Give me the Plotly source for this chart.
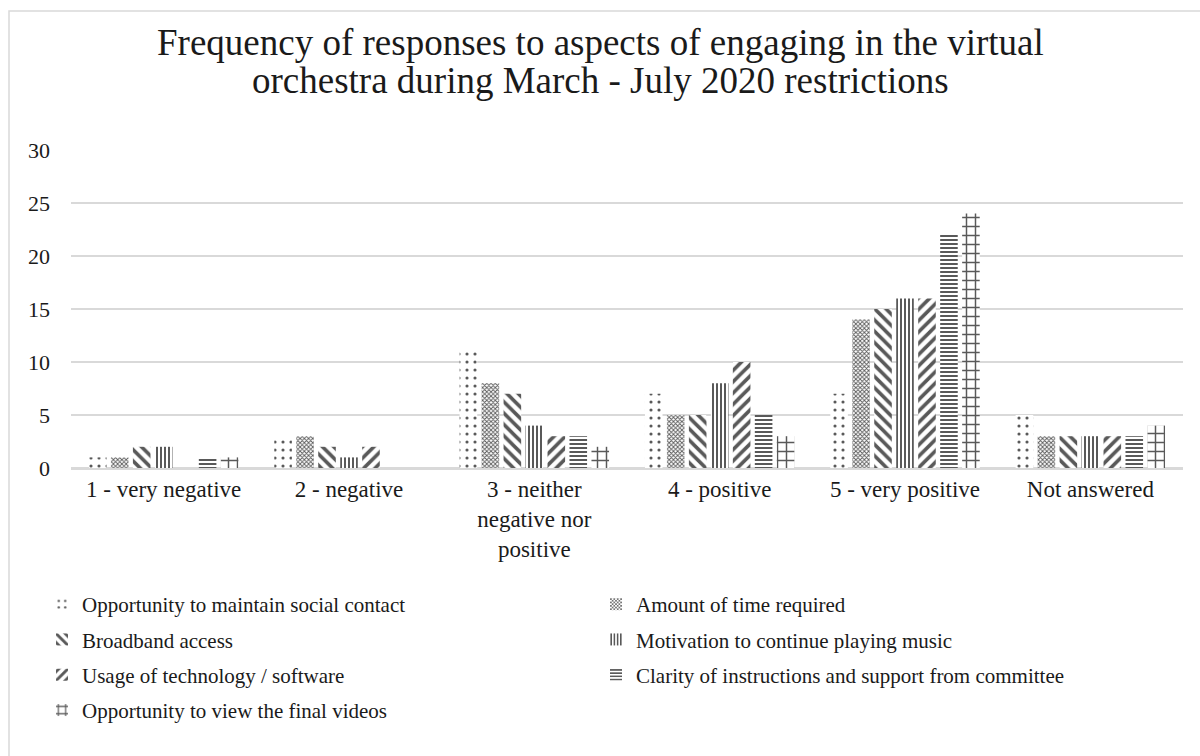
import plotly.graph_objects as go

categories = [
    "1 - very negative",
    "2 - negative",
    "3 - neither<br>negative nor<br>positive",
    "4 - positive",
    "5 - very positive",
    "Not answered",
]

social_contact = [1, 3, 11, 7, 7, 5]
time_required = [1, 3, 8, 5, 14, 3]
broadband = [2, 2, 7, 5, 15, 3]
motivation = [2, 1, 4, 8, 16, 3]
technology = [0, 2, 3, 10, 16, 3]
clarity = [1, 0, 3, 5, 22, 3]
final_videos = [1, 0, 2, 3, 24, 4]

title_lines = [
    "Frequency of responses to aspects of engaging in the virtual",
    "orchestra during March - July 2020 restrictions",
]

# name, values, pattern shape, pattern size, solidity, legend column
series = [
    ("Opportunity to maintain social contact", social_contact, ".", 8, 0.12, "legend"),
    ("Amount of time required", time_required, "x", 3, 0.5, "legend2"),
    ("Broadband access", broadband, "\\", 8, 0.45, "legend"),
    ("Motivation to continue playing music", motivation, "|", 4, 0.5, "legend2"),
    ("Usage of technology / software", technology, "/", 8, 0.45, "legend"),
    ("Clarity of instructions and support from committee", clarity, "-", 4, 0.5, "legend2"),
    ("Opportunity to view the final videos", final_videos, "+", 9, 0.3, "legend"),
]

INK = "#595959"
TEXT = "#1a1a1a"
FONT = "Liberation Serif, Times New Roman, serif"
W, H = 1200, 756
# plot area in pixels
PL, PR, PT, PB = 71, 1183, 150, 468


def px_x(x):
    return (x - PL) / (PR - PL)


def px_y(y):
    return (PB - y) / (PB - PT)


fig = go.Figure()
for name, vals, shape, size, solidity, leg in series:
    fig.add_trace(go.Bar(
        name=name,
        x=categories,
        y=vals,
        legend=leg,
        legendgroup=name,
        marker=dict(
            color="white",
            line=dict(width=0),
            pattern=dict(shape=shape, size=size, solidity=solidity,
                         fgcolor=INK, bgcolor="white", fillmode="replace"),
        ),
    ))

# two-line chart title, one annotation per line
annotations = [
    dict(text=line, xref="paper", yref="paper",
         x=px_x(W / 2), xanchor="center", y=px_y(yc), yanchor="middle",
         showarrow=False, font=dict(family=FONT, size=37, color=TEXT))
    for line, yc in zip(title_lines, (42, 80))
]

legend_style = dict(
    orientation="v",
    xref="container", yref="container",
    xanchor="left",
    y=1 - 584 / H, yanchor="top",
    font=dict(family=FONT, size=21, color=TEXT),
    itemwidth=30,
    tracegroupgap=5,
    traceorder="grouped",
    bgcolor="rgba(0,0,0,0)",
)

fig.update_layout(
    width=W,
    height=H,
    barmode="group",
    bargap=0.17,
    bargroupgap=0.2,
    paper_bgcolor="white",
    plot_bgcolor="white",
    margin=dict(l=PL, r=W - PR, t=PT, b=H - PB, autoexpand=False),
    font=dict(family=FONT, size=23, color=TEXT),
    annotations=annotations,
    xaxis=dict(
        showgrid=False,
        showline=True,
        linecolor="#d9d9d9",
        linewidth=1.5,
        ticks="",
        tickfont=dict(family=FONT, size=23, color=TEXT),
    ),
    yaxis=dict(
        range=[0, 30],
        tickvals=[0, 5, 10, 15, 20, 25, 30],
        showgrid=True,
        gridcolor="#d9d9d9",
        gridwidth=1.5,
        zeroline=True,
        zerolinecolor="#d9d9d9",
        zerolinewidth=1.5,
        showline=False,
        ticks="",
        ticklabelstandoff=20,
        tickfont=dict(family=FONT, size=22, color=TEXT),
    ),
    legend=dict(x=42 / W, **legend_style),
    legend2=dict(x=596 / W, **legend_style),
    shapes=[
        dict(type="rect", xref="paper", yref="paper",
             x0=px_x(9), x1=1.05,
             y0=-0.95, y1=px_y(11),
             line=dict(color="#d9d9d9", width=1.5), fillcolor="rgba(0,0,0,0)",
             layer="below"),
    ],
)

fig.write_html("out.html")
